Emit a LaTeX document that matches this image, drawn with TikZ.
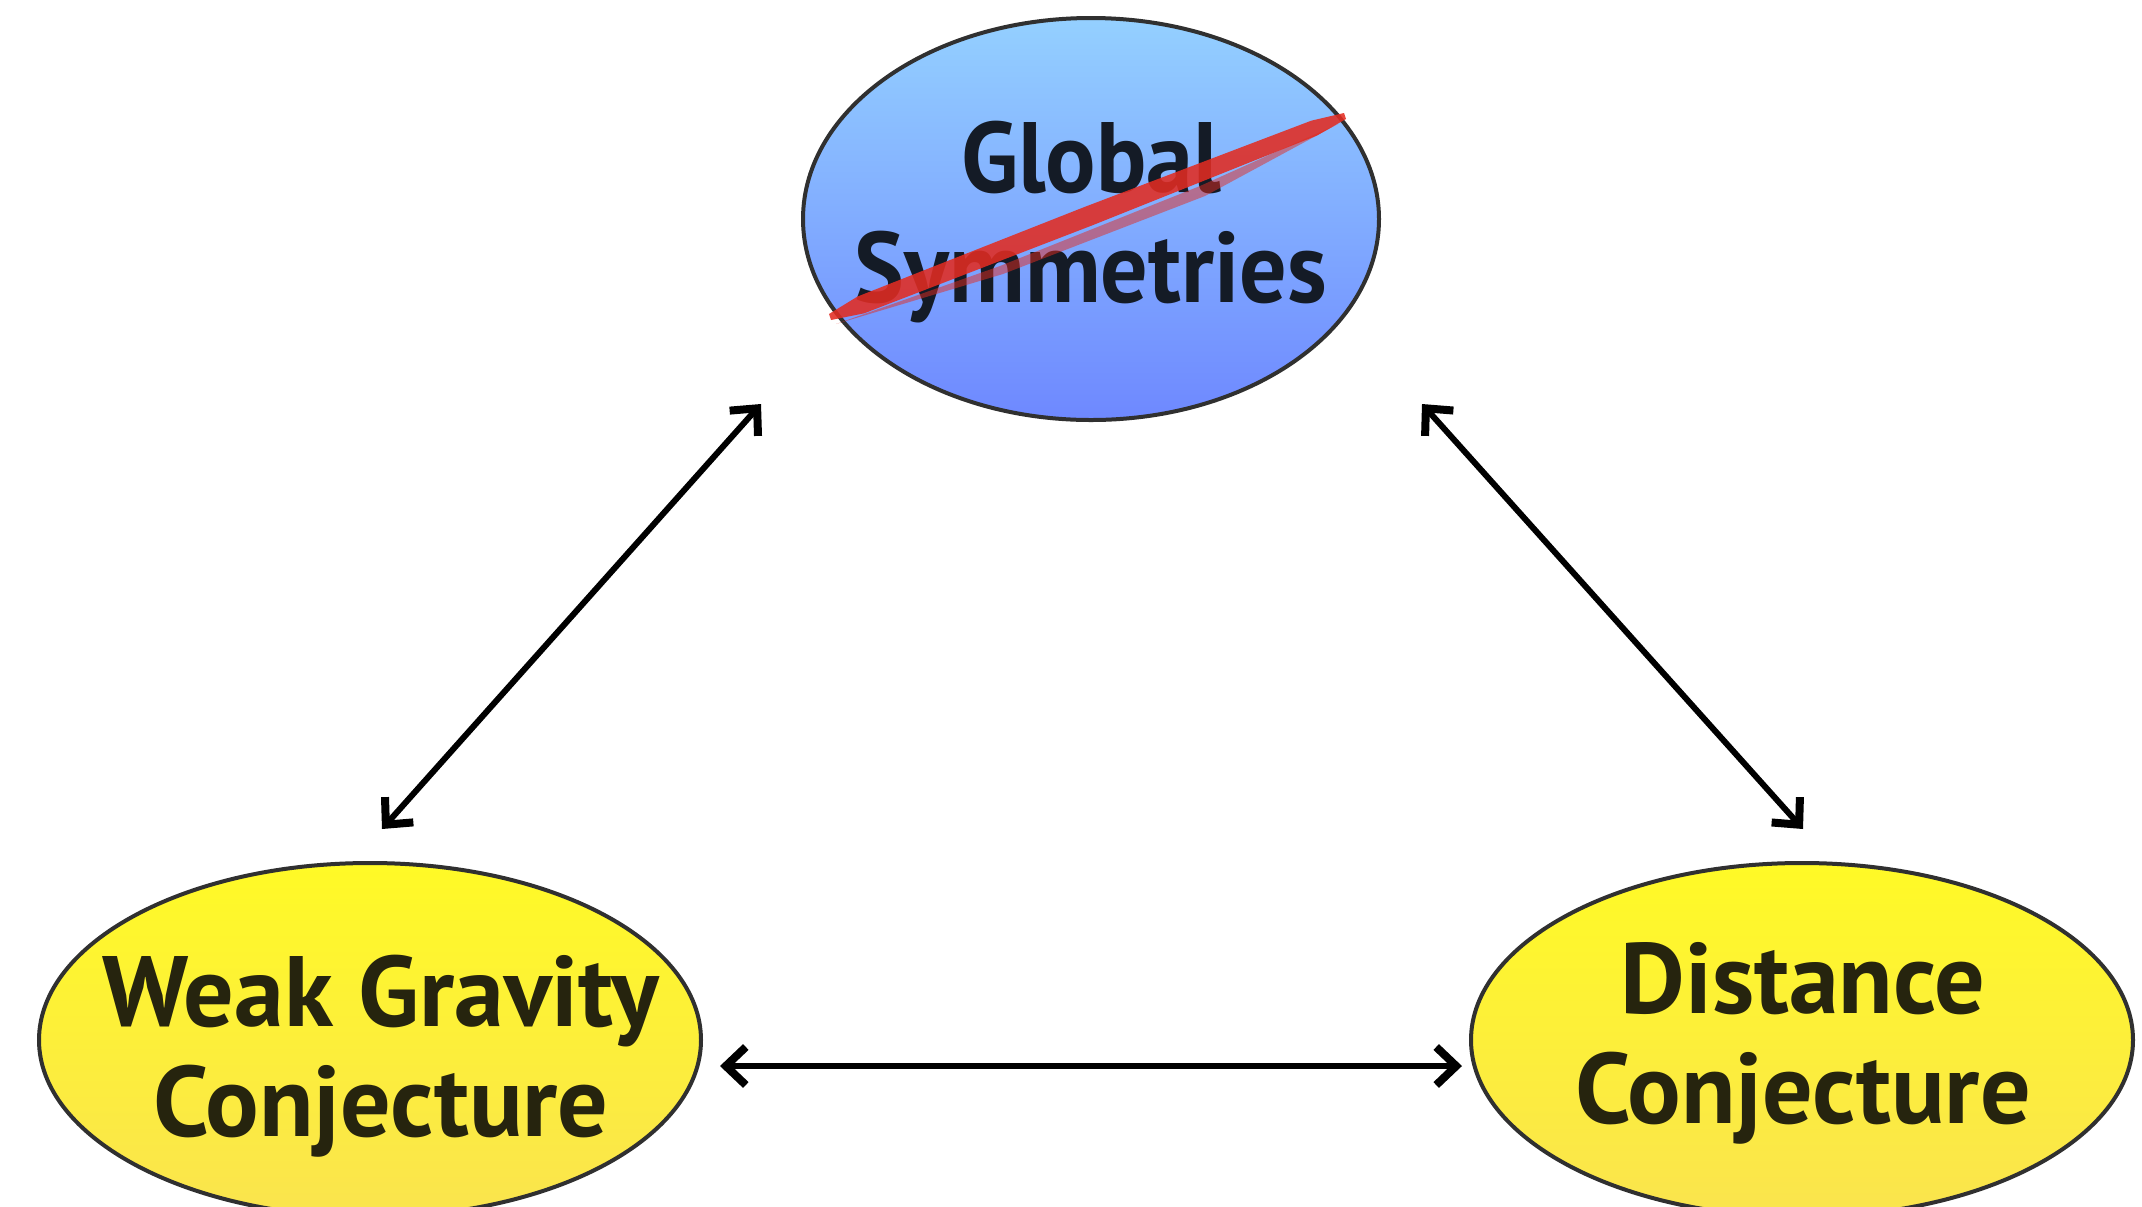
\documentclass[tikz,border=0pt]{standalone}
\usepackage{fontspec}
\newfontfamily\labfont{PT Sans}
\newfontfamily\labfontn{PT Sans}[FakeStretch=0.94]
\usetikzlibrary{shapes.geometric,arrows.meta}
\definecolor{bluetop}{RGB}{148,208,255}
\definecolor{bluebot}{RGB}{110,136,255}
\definecolor{yeltop}{RGB}{255,250,38}
\definecolor{yelbot}{RGB}{250,228,78}
\definecolor{rimcol}{RGB}{48,48,48}
\definecolor{txtblue}{RGB}{20,27,38}
\definecolor{txtyel}{RGB}{38,36,14}
\definecolor{strikecol}{RGB}{226,44,34}
\tikzset{
  bubble/.style={ellipse, draw=rimcol, line width=2pt, inner sep=0pt},
  lab/.style={align=center, font=\labfont\bfseries\fontsize{50}{55}\selectfont, inner sep=0pt},
  labn/.style={align=center, font=\labfontn\bfseries\fontsize{50}{55}\selectfont, inner sep=0pt},
  link/.style={<->, line width=3pt, line cap=round,
    >={Straight Barb[length=10pt,width=19pt,line width=4pt]}}
}
\begin{document}
\begin{tikzpicture}[x=0.5pt,y=-0.5pt]
\useasboundingbox (0,0) rectangle (2142,1206);
% bubbles
\node[bubble, top color=bluetop, bottom color=bluebot,
      minimum width=288pt, minimum height=201pt] (gs) at (1091,219) {};
\node[bubble, top color=yeltop, bottom color=yelbot,
      minimum width=331pt, minimum height=177pt] (wgc) at (370,1040) {};
\node[bubble, top color=yeltop, bottom color=yelbot,
      minimum width=331pt, minimum height=177pt] (dc) at (1802,1040) {};
% labels
\node[labn, text=txtblue] (gst) at (1091,222) {Global\\Symmetries};
\node[lab, text=txtyel] (wgct) at (381,1056) {Weak Gravity\\Conjecture};
\node[lab, text=txtyel] (dct) at (1803,1043) {Distance\\Conjecture};
% strike-through brush stroke
\fill[strikecol, opacity=0.88]
  (829,314) -- (857.6,296.5) -- (1083.9,207.2) -- (1311.2,120.7) -- (1344,113)
  -- (1346,119) -- (1317,135.5) -- (1091.1,225.8) -- (864.2,313.3) -- (831,320) -- cycle;
\fill[strikecol, opacity=0.5]
  (836,324) -- (1000,266) -- (1200,186) -- (1338,124)
  -- (1205,196) -- (1003,274) -- cycle;
% connector end points
\coordinate (a1s) at (761,404);
\coordinate (a1e) at (382,829);
\coordinate (a2s) at (1422,404);
\coordinate (a2e) at (1803,829);
\coordinate (a3s) at (720,1066);
\coordinate (a3e) at (1462,1066);
\draw[link] (a1s) -- (a1e);
\draw[link] (a2s) -- (a2e);
\draw[link] (a3s) -- (a3e);
\end{tikzpicture}
\end{document}
